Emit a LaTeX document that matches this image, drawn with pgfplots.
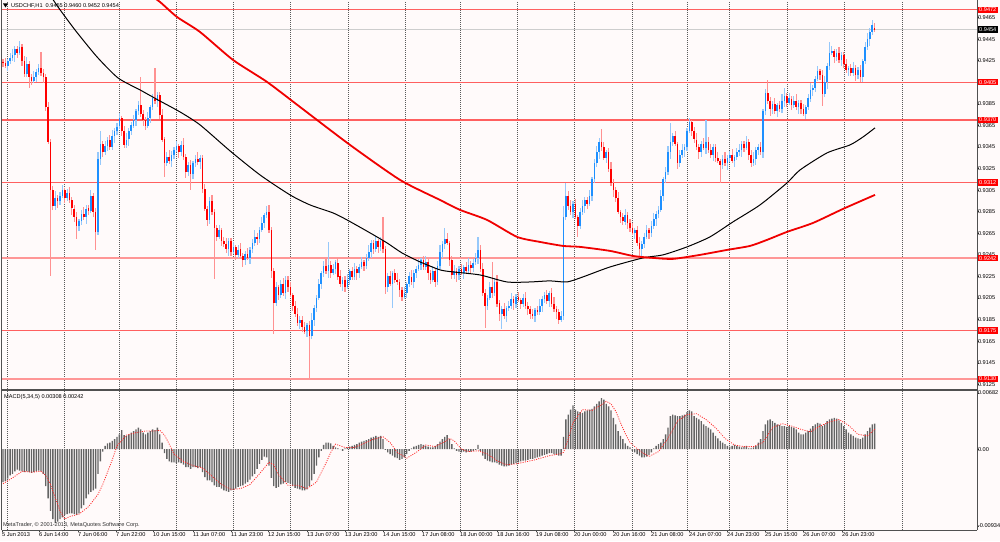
\documentclass[border=0pt]{standalone}
\usepackage{fontspec}
\setmainfont{Liberation Sans}
\usepackage{pgfplots}
\usepackage{pgfplotstable}
\pgfplotsset{compat=1.18}
\definecolor{bg}{RGB}{255,250,250}
\definecolor{upbody}{RGB}{30,144,255}
\definecolor{upwick}{RGB}{150,200,250}
\definecolor{dnbody}{RGB}{255,0,0}
\definecolor{dnwick}{RGB}{255,145,145}
\definecolor{lvl}{RGB}{255,95,95}
\definecolor{lvlpink}{RGB}{255,150,150}
\definecolor{maRed}{RGB}{240,0,0}
\definecolor{macdgray}{RGB}{100,100,100}
\definecolor{frame}{RGB}{80,80,80}
\definecolor{curgray}{RGB}{205,205,205}
\newcommand\mtfont{\fontsize{5.6pt}{6.4pt}\selectfont}

\pgfplotstableread[row sep=\\]{
i o h l c m\\
0 0.9424 0.9427 0.9419 0.9423 -0.0040\\
1 0.9423 0.9428 0.9418 0.9420 -0.0039\\
2 0.9420 0.9427 0.9415 0.9425 -0.0036\\
3 0.9425 0.9432 0.9422 0.9428 -0.0032\\
4 0.9428 0.9436 0.9425 0.9430 -0.0030\\
5 0.9430 0.9439 0.9424 0.9436 -0.0027\\
6 0.9436 0.9439 0.9428 0.9432 -0.0025\\
7 0.9432 0.9443 0.9430 0.9438 -0.0026\\
8 0.9438 0.9440 0.9420 0.9425 -0.0027\\
9 0.9425 0.9429 0.9410 0.9413 -0.0028\\
10 0.9413 0.9428 0.9410 0.9422 -0.0027\\
11 0.9422 0.9425 0.9400 0.9410 -0.0028\\
12 0.9410 0.9413 0.9402 0.9406 -0.0029\\
13 0.9406 0.9415 0.9404 0.9410 -0.0028\\
14 0.9410 0.9417 0.9405 0.9415 -0.0027\\
15 0.9415 0.9422 0.9412 0.9418 -0.0026\\
16 0.9418 0.9433 0.9411 0.9414 -0.0027\\
17 0.9414 0.9417 0.9404 0.9410 -0.0030\\
18 0.9410 0.9413 0.9378 0.9382 -0.0045\\
19 0.9382 0.9387 0.9348 0.9350 -0.0060\\
20 0.9350 0.9352 0.9225 0.9305 -0.0075\\
21 0.9305 0.9309 0.9287 0.9290 -0.0085\\
22 0.9290 0.9304 0.9287 0.9298 -0.0090\\
23 0.9298 0.9301 0.9289 0.9295 -0.0088\\
24 0.9295 0.9303 0.9291 0.9300 -0.0085\\
25 0.9300 0.9310 0.9298 0.9305 -0.0083\\
26 0.9305 0.9307 0.9293 0.9298 -0.0080\\
27 0.9298 0.9306 0.9295 0.9302 -0.0079\\
28 0.9302 0.9308 0.9293 0.9296 -0.0078\\
29 0.9296 0.9299 0.9282 0.9288 -0.0078\\
30 0.9288 0.9291 0.9276 0.9280 -0.0079\\
31 0.9280 0.9285 0.9260 0.9272 -0.0080\\
32 0.9272 0.9278 0.9267 0.9276 -0.0078\\
33 0.9276 0.9287 0.9273 0.9283 -0.0072\\
34 0.9283 0.9289 0.9277 0.9280 -0.0068\\
35 0.9280 0.9291 0.9274 0.9288 -0.0060\\
36 0.9288 0.9291 0.9282 0.9286 -0.0055\\
37 0.9286 0.9305 0.9284 0.9300 -0.0052\\
38 0.9300 0.9302 0.9280 0.9285 -0.0050\\
39 0.9285 0.9289 0.9250 0.9266 -0.0048\\
40 0.9266 0.9340 0.9263 0.9334 -0.0030\\
41 0.9334 0.9360 0.9328 0.9348 -0.0015\\
42 0.9348 0.9351 0.9336 0.9340 -0.0003\\
43 0.9340 0.9351 0.9338 0.9346 0.0004\\
44 0.9346 0.9354 0.9341 0.9352 0.0007\\
45 0.9352 0.9356 0.9342 0.9345 0.0008\\
46 0.9345 0.9361 0.9342 0.9355 0.0010\\
47 0.9355 0.9363 0.9349 0.9360 0.0012\\
48 0.9360 0.9367 0.9356 0.9364 0.0015\\
49 0.9364 0.9377 0.9362 0.9372 0.0018\\
50 0.9372 0.9374 0.9355 0.9360 0.0023\\
51 0.9360 0.9364 0.9344 0.9347 0.0017\\
52 0.9347 0.9358 0.9344 0.9352 0.0016\\
53 0.9352 0.9363 0.9346 0.9360 0.0018\\
54 0.9360 0.9368 0.9356 0.9365 0.0020\\
55 0.9365 0.9375 0.9363 0.9370 0.0022\\
56 0.9370 0.9380 0.9365 0.9378 0.0024\\
57 0.9378 0.9388 0.9375 0.9384 0.0026\\
58 0.9384 0.9410 0.9373 0.9376 0.0024\\
59 0.9376 0.9379 0.9364 0.9370 0.0020\\
60 0.9370 0.9373 0.9361 0.9365 0.0018\\
61 0.9365 0.9377 0.9363 0.9372 0.0020\\
62 0.9372 0.9384 0.9367 0.9382 0.0022\\
63 0.9382 0.9394 0.9379 0.9390 0.0024\\
64 0.9390 0.9418 0.9385 0.9388 0.0023\\
65 0.9388 0.9396 0.9382 0.9393 0.0026\\
66 0.9393 0.9396 0.9371 0.9375 0.0018\\
67 0.9375 0.9380 0.9350 0.9352 0.0008\\
68 0.9352 0.9354 0.9317 0.9330 -0.0005\\
69 0.9330 0.9340 0.9327 0.9336 -0.0012\\
70 0.9336 0.9342 0.9329 0.9332 -0.0015\\
71 0.9332 0.9341 0.9326 0.9338 -0.0016\\
72 0.9338 0.9345 0.9334 0.9342 -0.0016\\
73 0.9342 0.9351 0.9340 0.9346 -0.0017\\
74 0.9346 0.9348 0.9335 0.9340 -0.0016\\
75 0.9340 0.9351 0.9337 0.9347 -0.0017\\
76 0.9347 0.9353 0.9333 0.9336 -0.0019\\
77 0.9336 0.9339 0.9316 0.9322 -0.0022\\
78 0.9322 0.9331 0.9318 0.9328 -0.0022\\
79 0.9328 0.9333 0.9305 0.9320 -0.0024\\
80 0.9320 0.9332 0.9315 0.9330 -0.0022\\
81 0.9330 0.9338 0.9327 0.9334 -0.0022\\
82 0.9334 0.9340 0.9328 0.9331 -0.0023\\
83 0.9331 0.9338 0.9325 0.9335 -0.0022\\
84 0.9335 0.9338 0.9302 0.9306 -0.0028\\
85 0.9306 0.9311 0.9286 0.9288 -0.0034\\
86 0.9288 0.9290 0.9272 0.9277 -0.0038\\
87 0.9277 0.9299 0.9274 0.9295 -0.0038\\
88 0.9295 0.9301 0.9282 0.9285 -0.0040\\
89 0.9285 0.9288 0.9223 0.9270 -0.0044\\
90 0.9270 0.9273 0.9258 0.9262 -0.0046\\
91 0.9262 0.9273 0.9260 0.9268 -0.0046\\
92 0.9268 0.9270 0.9253 0.9258 -0.0048\\
93 0.9258 0.9262 0.9252 0.9255 -0.0050\\
94 0.9255 0.9261 0.9247 0.9250 -0.0051\\
95 0.9250 0.9261 0.9244 0.9258 -0.0052\\
96 0.9258 0.9261 0.9244 0.9248 -0.0050\\
97 0.9248 0.9257 0.9246 0.9252 -0.0049\\
98 0.9252 0.9254 0.9240 0.9245 -0.0048\\
99 0.9245 0.9254 0.9242 0.9250 -0.0046\\
100 0.9250 0.9256 0.9241 0.9244 -0.0045\\
101 0.9244 0.9247 0.9234 0.9240 -0.0044\\
102 0.9240 0.9249 0.9236 0.9246 -0.0042\\
103 0.9246 0.9251 0.9240 0.9242 -0.0040\\
104 0.9242 0.9252 0.9237 0.9250 -0.0037\\
105 0.9250 0.9260 0.9247 0.9256 -0.0033\\
106 0.9256 0.9268 0.9253 0.9262 -0.0030\\
107 0.9262 0.9265 0.9254 0.9260 -0.0024\\
108 0.9260 0.9271 0.9256 0.9268 -0.0018\\
109 0.9268 0.9280 0.9266 0.9275 -0.0013\\
110 0.9275 0.9284 0.9270 0.9282 -0.0009\\
111 0.9282 0.9290 0.9279 0.9285 -0.0010\\
112 0.9285 0.9291 0.9265 0.9268 -0.0020\\
113 0.9268 0.9271 0.9224 0.9230 -0.0035\\
114 0.9230 0.9233 0.9172 0.9200 -0.0045\\
115 0.9200 0.9220 0.9198 0.9215 -0.0047\\
116 0.9215 0.9217 0.9203 0.9208 -0.0046\\
117 0.9208 0.9222 0.9205 0.9218 -0.0043\\
118 0.9218 0.9224 0.9207 0.9210 -0.0042\\
119 0.9210 0.9225 0.9204 0.9222 -0.0040\\
120 0.9222 0.9225 0.9211 0.9215 -0.0041\\
121 0.9215 0.9220 0.9206 0.9208 -0.0042\\
122 0.9208 0.9210 0.9193 0.9198 -0.0045\\
123 0.9198 0.9202 0.9187 0.9190 -0.0047\\
124 0.9190 0.9196 0.9179 0.9182 -0.0048\\
125 0.9182 0.9188 0.9176 0.9185 -0.0049\\
126 0.9185 0.9188 0.9174 0.9178 -0.0050\\
127 0.9178 0.9183 0.9172 0.9174 -0.0050\\
128 0.9174 0.9182 0.9169 0.9180 -0.0049\\
129 0.9180 0.9184 0.9131 0.9170 -0.0045\\
130 0.9170 0.9191 0.9167 0.9185 -0.0038\\
131 0.9185 0.9199 0.9179 0.9196 -0.0030\\
132 0.9196 0.9208 0.9192 0.9205 -0.0020\\
133 0.9205 0.9223 0.9203 0.9218 -0.0010\\
134 0.9218 0.9230 0.9213 0.9228 -0.0002\\
135 0.9228 0.9239 0.9225 0.9235 0.0005\\
136 0.9235 0.9241 0.9227 0.9230 0.0008\\
137 0.9230 0.9257 0.9224 0.9236 0.0008\\
138 0.9236 0.9239 0.9224 0.9228 0.0007\\
139 0.9228 0.9237 0.9226 0.9232 0.0004\\
140 0.9232 0.9240 0.9227 0.9238 0.0002\\
141 0.9238 0.9242 0.9222 0.9225 0.0001\\
142 0.9225 0.9231 0.9215 0.9218 0.0000\\
143 0.9218 0.9225 0.9212 0.9222 -0.0002\\
144 0.9222 0.9225 0.9211 0.9215 0.0001\\
145 0.9215 0.9227 0.9213 0.9222 0.0002\\
146 0.9222 0.9232 0.9217 0.9230 0.0003\\
147 0.9230 0.9234 0.9222 0.9225 0.0004\\
148 0.9225 0.9238 0.9222 0.9232 0.0005\\
149 0.9232 0.9235 0.9222 0.9228 0.0006\\
150 0.9228 0.9237 0.9224 0.9234 0.0008\\
151 0.9234 0.9243 0.9232 0.9238 0.0009\\
152 0.9238 0.9240 0.9230 0.9235 0.0010\\
153 0.9235 0.9246 0.9232 0.9242 0.0011\\
154 0.9242 0.9254 0.9239 0.9248 0.0012\\
155 0.9248 0.9259 0.9242 0.9256 0.0014\\
156 0.9256 0.9259 0.9246 0.9250 0.0015\\
157 0.9250 0.9263 0.9248 0.9258 0.0016\\
158 0.9258 0.9260 0.9247 0.9252 0.0015\\
159 0.9252 0.9262 0.9249 0.9258 0.0016\\
160 0.9258 0.9280 0.9247 0.9250 0.0012\\
161 0.9250 0.9253 0.9209 0.9215 -0.0001\\
162 0.9215 0.9228 0.9211 0.9225 -0.0004\\
163 0.9225 0.9230 0.9216 0.9218 -0.0006\\
164 0.9218 0.9230 0.9196 0.9228 -0.0008\\
165 0.9228 0.9232 0.9219 0.9222 -0.0010\\
166 0.9222 0.9228 0.9217 0.9220 -0.0011\\
167 0.9220 0.9223 0.9206 0.9212 -0.0013\\
168 0.9212 0.9215 0.9202 0.9206 -0.0012\\
169 0.9206 0.9215 0.9204 0.9210 -0.0010\\
170 0.9210 0.9220 0.9205 0.9218 -0.0006\\
171 0.9218 0.9229 0.9215 0.9225 -0.0002\\
172 0.9225 0.9231 0.9217 0.9220 0.0001\\
173 0.9220 0.9231 0.9214 0.9228 0.0003\\
174 0.9228 0.9235 0.9224 0.9232 0.0004\\
175 0.9232 0.9241 0.9230 0.9236 0.0005\\
176 0.9236 0.9242 0.9231 0.9240 0.0006\\
177 0.9240 0.9244 0.9231 0.9234 0.0005\\
178 0.9234 0.9244 0.9231 0.9238 0.0004\\
179 0.9238 0.9241 0.9222 0.9228 0.0003\\
180 0.9228 0.9231 0.9218 0.9222 0.0002\\
181 0.9222 0.9235 0.9220 0.9230 0.0002\\
182 0.9230 0.9232 0.9215 0.9220 0.0004\\
183 0.9220 0.9239 0.9217 0.9235 0.0006\\
184 0.9235 0.9254 0.9232 0.9248 0.0009\\
185 0.9248 0.9258 0.9242 0.9255 0.0012\\
186 0.9255 0.9270 0.9251 0.9260 0.0015\\
187 0.9260 0.9265 0.9254 0.9256 0.0017\\
188 0.9256 0.9258 0.9235 0.9240 0.0012\\
189 0.9240 0.9244 0.9223 0.9226 0.0006\\
190 0.9226 0.9236 0.9223 0.9230 0.0001\\
191 0.9230 0.9233 0.9220 0.9226 -0.0002\\
192 0.9226 0.9235 0.9222 0.9232 -0.0003\\
193 0.9232 0.9237 0.9226 0.9228 -0.0004\\
194 0.9228 0.9236 0.9223 0.9234 -0.0003\\
195 0.9234 0.9238 0.9227 0.9230 -0.0004\\
196 0.9230 0.9242 0.9227 0.9236 -0.0003\\
197 0.9236 0.9239 0.9227 0.9233 -0.0003\\
198 0.9233 0.9241 0.9229 0.9238 -0.0002\\
199 0.9238 0.9247 0.9236 0.9242 -0.0001\\
200 0.9242 0.9262 0.9237 0.9250 0.0005\\
201 0.9250 0.9254 0.9229 0.9232 -0.0002\\
202 0.9232 0.9238 0.9207 0.9210 -0.0008\\
203 0.9210 0.9213 0.9177 0.9198 -0.0012\\
204 0.9198 0.9208 0.9194 0.9205 -0.0014\\
205 0.9205 0.9220 0.9203 0.9215 -0.0015\\
206 0.9215 0.9238 0.9205 0.9210 -0.0016\\
207 0.9210 0.9224 0.9207 0.9220 -0.0016\\
208 0.9220 0.9226 0.9197 0.9200 -0.0017\\
209 0.9200 0.9203 0.9184 0.9190 -0.0019\\
210 0.9190 0.9198 0.9176 0.9195 -0.0020\\
211 0.9195 0.9200 0.9186 0.9188 -0.0021\\
212 0.9188 0.9198 0.9183 0.9196 -0.0021\\
213 0.9196 0.9202 0.9193 0.9198 -0.0020\\
214 0.9198 0.9210 0.9195 0.9204 -0.0019\\
215 0.9204 0.9207 0.9194 0.9200 -0.0018\\
216 0.9200 0.9209 0.9196 0.9206 -0.0017\\
217 0.9206 0.9211 0.9201 0.9203 -0.0016\\
218 0.9203 0.9205 0.9195 0.9200 -0.0015\\
219 0.9200 0.9209 0.9197 0.9205 -0.0014\\
220 0.9205 0.9211 0.9195 0.9198 -0.0014\\
221 0.9198 0.9201 0.9189 0.9195 -0.0013\\
222 0.9195 0.9198 0.9186 0.9190 -0.0012\\
223 0.9190 0.9195 0.9186 0.9188 -0.0012\\
224 0.9188 0.9196 0.9183 0.9194 -0.0011\\
225 0.9194 0.9198 0.9189 0.9192 -0.0010\\
226 0.9192 0.9204 0.9189 0.9198 -0.0009\\
227 0.9198 0.9207 0.9192 0.9204 -0.0008\\
228 0.9204 0.9211 0.9200 0.9208 -0.0007\\
229 0.9208 0.9213 0.9200 0.9202 -0.0006\\
230 0.9202 0.9212 0.9197 0.9210 -0.0005\\
231 0.9210 0.9214 0.9197 0.9200 -0.0005\\
232 0.9200 0.9206 0.9192 0.9195 -0.0006\\
233 0.9195 0.9198 0.9186 0.9192 -0.0007\\
234 0.9192 0.9195 0.9181 0.9185 -0.0008\\
235 0.9185 0.9193 0.9183 0.9188 -0.0008\\
236 0.9188 0.9290 0.9185 0.9280 0.0015\\
237 0.9280 0.9312 0.9277 0.9300 0.0036\\
238 0.9300 0.9304 0.9287 0.9290 0.0042\\
239 0.9290 0.9296 0.9282 0.9285 0.0048\\
240 0.9285 0.9295 0.9279 0.9292 0.0053\\
241 0.9292 0.9297 0.9278 0.9280 0.0048\\
242 0.9280 0.9282 0.9262 0.9272 0.0046\\
243 0.9272 0.9289 0.9269 0.9285 0.0045\\
244 0.9285 0.9296 0.9282 0.9290 0.0044\\
245 0.9290 0.9299 0.9284 0.9296 0.0046\\
246 0.9296 0.9299 0.9288 0.9292 0.0047\\
247 0.9292 0.9305 0.9290 0.9300 0.0048\\
248 0.9300 0.9317 0.9295 0.9315 0.0049\\
249 0.9315 0.9334 0.9312 0.9330 0.0052\\
250 0.9330 0.9346 0.9327 0.9340 0.0055\\
251 0.9340 0.9353 0.9334 0.9350 0.0058\\
252 0.9350 0.9362 0.9341 0.9345 0.0062\\
253 0.9345 0.9350 0.9333 0.9335 0.0060\\
254 0.9335 0.9342 0.9330 0.9340 0.0055\\
255 0.9340 0.9344 0.9322 0.9325 0.0052\\
256 0.9325 0.9331 0.9309 0.9312 0.0047\\
257 0.9312 0.9315 0.9299 0.9305 0.0038\\
258 0.9305 0.9308 0.9294 0.9298 0.0030\\
259 0.9298 0.9303 0.9283 0.9285 0.0022\\
260 0.9285 0.9287 0.9275 0.9280 0.0016\\
261 0.9280 0.9284 0.9273 0.9276 0.0012\\
262 0.9276 0.9288 0.9273 0.9282 0.0007\\
263 0.9282 0.9285 0.9269 0.9275 0.0004\\
264 0.9275 0.9278 0.9266 0.9270 0.0002\\
265 0.9270 0.9275 0.9263 0.9265 -0.0002\\
266 0.9265 0.9270 0.9260 0.9268 -0.0004\\
267 0.9268 0.9272 0.9253 0.9256 -0.0006\\
268 0.9256 0.9262 0.9242 0.9250 -0.0008\\
269 0.9250 0.9258 0.9244 0.9255 -0.0010\\
270 0.9255 0.9265 0.9251 0.9262 -0.0010\\
271 0.9262 0.9273 0.9260 0.9268 -0.0009\\
272 0.9268 0.9270 0.9260 0.9265 -0.0007\\
273 0.9265 0.9276 0.9262 0.9272 -0.0004\\
274 0.9272 0.9284 0.9269 0.9278 0.0001\\
275 0.9278 0.9286 0.9272 0.9283 0.0004\\
276 0.9283 0.9290 0.9279 0.9287 0.0006\\
277 0.9287 0.9305 0.9285 0.9300 0.0008\\
278 0.9300 0.9317 0.9295 0.9315 0.0012\\
279 0.9315 0.9326 0.9312 0.9322 0.0018\\
280 0.9322 0.9346 0.9319 0.9340 0.0026\\
281 0.9340 0.9367 0.9334 0.9350 0.0040\\
282 0.9350 0.9358 0.9346 0.9355 0.0042\\
283 0.9355 0.9360 0.9346 0.9348 0.0041\\
284 0.9348 0.9350 0.9325 0.9330 0.0040\\
285 0.9330 0.9342 0.9327 0.9338 0.0040\\
286 0.9338 0.9348 0.9335 0.9342 0.0041\\
287 0.9342 0.9348 0.9336 0.9345 0.0042\\
288 0.9345 0.9363 0.9341 0.9360 0.0045\\
289 0.9360 0.9372 0.9358 0.9368 0.0047\\
290 0.9368 0.9370 0.9355 0.9360 0.0046\\
291 0.9360 0.9364 0.9349 0.9352 0.0040\\
292 0.9352 0.9358 0.9342 0.9345 0.0038\\
293 0.9345 0.9348 0.9334 0.9340 0.0036\\
294 0.9340 0.9351 0.9336 0.9348 0.0034\\
295 0.9348 0.9353 0.9342 0.9344 0.0030\\
296 0.9344 0.9370 0.9339 0.9350 0.0028\\
297 0.9350 0.9354 0.9339 0.9342 0.0026\\
298 0.9342 0.9348 0.9335 0.9338 0.0024\\
299 0.9338 0.9348 0.9332 0.9345 0.0020\\
300 0.9345 0.9348 0.9331 0.9335 0.0016\\
301 0.9335 0.9340 0.9330 0.9332 0.0013\\
302 0.9332 0.9334 0.9312 0.9328 0.0010\\
303 0.9328 0.9338 0.9325 0.9334 0.0008\\
304 0.9334 0.9340 0.9327 0.9330 0.0006\\
305 0.9330 0.9338 0.9324 0.9335 0.0004\\
306 0.9335 0.9341 0.9331 0.9338 0.0003\\
307 0.9338 0.9343 0.9330 0.9332 0.0004\\
308 0.9332 0.9338 0.9327 0.9336 0.0005\\
309 0.9336 0.9344 0.9333 0.9340 0.0004\\
310 0.9340 0.9348 0.9337 0.9342 0.0003\\
311 0.9342 0.9351 0.9336 0.9348 0.0002\\
312 0.9348 0.9351 0.9340 0.9344 0.0003\\
313 0.9344 0.9355 0.9342 0.9350 0.0004\\
314 0.9350 0.9352 0.9333 0.9338 0.0001\\
315 0.9338 0.9342 0.9327 0.9330 0.0001\\
316 0.9330 0.9340 0.9327 0.9334 0.0002\\
317 0.9334 0.9345 0.9328 0.9342 0.0004\\
318 0.9342 0.9348 0.9338 0.9345 0.0008\\
319 0.9345 0.9350 0.9338 0.9340 0.0012\\
320 0.9340 0.9380 0.9335 0.9378 0.0022\\
321 0.9378 0.9399 0.9375 0.9395 0.0030\\
322 0.9395 0.9407 0.9385 0.9388 0.0035\\
323 0.9388 0.9391 0.9374 0.9380 0.0036\\
324 0.9380 0.9388 0.9376 0.9385 0.0034\\
325 0.9385 0.9390 0.9376 0.9378 0.0032\\
326 0.9378 0.9386 0.9373 0.9384 0.0030\\
327 0.9384 0.9388 0.9377 0.9380 0.0029\\
328 0.9380 0.9394 0.9377 0.9388 0.0028\\
329 0.9388 0.9400 0.9382 0.9392 0.0028\\
330 0.9392 0.9395 0.9382 0.9386 0.0027\\
331 0.9386 0.9395 0.9384 0.9390 0.0028\\
332 0.9390 0.9392 0.9379 0.9384 0.0027\\
333 0.9384 0.9392 0.9381 0.9388 0.0026\\
334 0.9388 0.9394 0.9379 0.9382 0.0024\\
335 0.9382 0.9389 0.9376 0.9386 0.0020\\
336 0.9386 0.9389 0.9376 0.9380 0.0018\\
337 0.9380 0.9385 0.9374 0.9376 0.0018\\
338 0.9376 0.9384 0.9371 0.9382 0.0020\\
339 0.9382 0.9394 0.9379 0.9390 0.0022\\
340 0.9390 0.9404 0.9387 0.9398 0.0025\\
341 0.9398 0.9403 0.9392 0.9400 0.0028\\
342 0.9400 0.9411 0.9396 0.9408 0.0030\\
343 0.9408 0.9420 0.9406 0.9415 0.0032\\
344 0.9415 0.9417 0.9407 0.9412 0.0031\\
345 0.9412 0.9416 0.9383 0.9394 0.0028\\
346 0.9394 0.9411 0.9391 0.9405 0.0030\\
347 0.9405 0.9423 0.9399 0.9420 0.0034\\
348 0.9420 0.9442 0.9416 0.9432 0.0036\\
349 0.9432 0.9439 0.9430 0.9434 0.0037\\
350 0.9434 0.9436 0.9423 0.9428 0.0038\\
351 0.9428 0.9436 0.9425 0.9432 0.0037\\
352 0.9432 0.9438 0.9423 0.9426 0.0035\\
353 0.9426 0.9433 0.9420 0.9430 0.0032\\
354 0.9430 0.9433 0.9418 0.9422 0.0028\\
355 0.9422 0.9427 0.9414 0.9416 0.0024\\
356 0.9416 0.9420 0.9411 0.9418 0.0020\\
357 0.9418 0.9422 0.9411 0.9414 0.0018\\
358 0.9414 0.9424 0.9411 0.9418 0.0016\\
359 0.9418 0.9421 0.9406 0.9412 0.0014\\
360 0.9412 0.9419 0.9408 0.9416 0.0013\\
361 0.9416 0.9421 0.9405 0.9410 0.0012\\
362 0.9410 0.9427 0.9405 0.9425 0.0014\\
363 0.9425 0.9442 0.9422 0.9438 0.0018\\
364 0.9438 0.9451 0.9435 0.9445 0.0022\\
365 0.9445 0.9455 0.9439 0.9452 0.0026\\
366 0.9452 0.9463 0.9449 0.9458 0.0030\\
367 0.9455 0.9460 0.9452 0.9454 0.0031\\
}\candles

\pgfplotstableread[row sep=\\]{
i s\\
0 -0.0042\\ 4 -0.0035\\ 8 -0.0027\\ 12 -0.0028\\ 16 -0.0027\\ 18 -0.0032\\
20 -0.0043\\ 22 -0.0059\\ 24 -0.0075\\ 26 -0.0085\\ 28 -0.0082\\ 32 -0.0079\\
36 -0.0070\\ 40 -0.0055\\ 42 -0.0043\\ 44 -0.0028\\ 46 -0.0013\\ 48 0.0004\\
52 0.0017\\ 56 0.0020\\ 60 0.0022\\ 64 0.0022\\ 66 0.0023\\ 68 0.0017\\
70 0.0006\\ 72 -0.0006\\ 76 -0.0015\\ 80 -0.0020\\ 84 -0.0023\\ 88 -0.0033\\
92 -0.0043\\ 96 -0.0049\\ 100 -0.0048\\ 104 -0.0043\\ 108 -0.0030\\ 112 -0.0016\\
114 -0.0019\\ 116 -0.0031\\ 120 -0.0044\\ 124 -0.0044\\ 128 -0.0048\\ 132 -0.0040\\
136 -0.0017\\ 138 -0.0004\\ 140 0.0006\\ 144 0.0002\\ 148 0.0002\\ 152 0.0007\\
156 0.0012\\ 160 0.0015\\ 163 0.0008\\ 166 -0.0004\\ 170 -0.0011\\ 174 -0.0004\\
178 0.0005\\ 182 0.0003\\ 186 0.0009\\ 188 0.0013\\ 190 0.0010\\ 193 0.0000\\
196 -0.0003\\ 200 -0.0002\\ 204 -0.0006\\ 208 -0.0014\\ 212 -0.0019\\ 216 -0.0018\\
224 -0.0013\\ 230 -0.0008\\ 234 -0.0006\\ 236 -0.0004\\ 238 0.0012\\ 240 0.0032\\
244 0.0048\\ 248 0.0047\\ 252 0.0054\\ 254 0.0058\\ 256 0.0055\\ 258 0.0046\\
260 0.0032\\ 262 0.0019\\ 264 0.0008\\ 268 -0.0002\\ 272 -0.0009\\ 276 -0.0003\\
280 0.0013\\ 284 0.0034\\ 288 0.0042\\ 292 0.0043\\ 296 0.0036\\ 300 0.0026\\
304 0.0013\\ 308 0.0005\\ 312 0.0003\\ 316 0.0003\\ 320 0.0008\\ 324 0.0026\\
328 0.0031\\ 332 0.0028\\ 336 0.0024\\ 340 0.0021\\ 344 0.0028\\ 348 0.0033\\
352 0.0036\\ 356 0.0029\\ 360 0.0018\\ 364 0.0016\\ 367 0.0024\\
}\signal

\pgfplotsset{
  mtaxis/.style={
    scale only axis, anchor=south west, width=975pt,
    xmin=2, xmax=977,
    axis line style={draw=none},
    scaled x ticks=false, scaled y ticks=false,
    ytick pos=right, yticklabel pos=right,
    tick align=outside, major tick length=1.5pt,
    tick style={draw=black!75, line width=0.5pt},
    ticklabel style={font=\mtfont, inner sep=0.5pt},
    yticklabel style={xshift=-1.2pt},
    extra x ticks={7,64,119,176,233,290,348,405,460,517,574,632,687,729,787,844,902},
    extra x tick labels={},
    extra x tick style={grid=major, major tick length=0pt},
    major grid style={draw=black!65, dash pattern=on 1pt off 1pt, line width=0.6pt},
  },
  candle/.style={draw=none, mark=none, forget plot,
    error bars/y dir=both, error bars/y explicit, error bars/error mark=none},
}

\begin{document}
\begin{tikzpicture}[font=\mtfont]
\fill[bg] (0pt,0pt) rectangle (1000pt,541pt);
\path[use as bounding box] (0pt,0pt) rectangle (1000pt,541pt);

% ---------------- main price panel ----------------
\begin{axis}[mtaxis, at={(2pt,152pt)}, height=388pt,
  ymin=0.91207, ymax=0.94803,
  xtick=\empty,
  ytick={0.9125,0.9145,0.9165,0.9185,0.9205,0.9225,0.9245,0.9265,0.9285,0.9305,0.9325,0.9345,0.9365,0.9385,0.9425,0.9445,0.9465},
  yticklabels={0.9125,0.9145,0.9165,0.9185,0.9205,0.9225,0.9245,0.9265,0.9285,0.9305,0.9325,0.9345,0.9365,0.9385,0.9425,0.9445,0.9465},
]
% horizontal levels
\addplot[lvl, line width=1.1pt] coordinates {(2,0.9472) (977,0.9472)};
\addplot[lvl, line width=1.1pt] coordinates {(2,0.9405) (977,0.9405)};
\addplot[lvl, line width=1.1pt] coordinates {(2,0.9370) (977,0.9370)};
\addplot[lvl, line width=1.1pt] coordinates {(2,0.9312) (977,0.9312)};
\addplot[lvlpink, line width=1.8pt] coordinates {(2,0.9242) (977,0.9242)};
\addplot[lvl, line width=1.1pt] coordinates {(2,0.9175) (977,0.9175)};
\addplot[lvlpink, line width=1.8pt] coordinates {(2,0.9130) (977,0.9130)};
\addplot[curgray, line width=1.2pt] coordinates {(2,0.9454) (977,0.9454)};

% wicks
\addplot[candle, restrict expr to domain={\thisrow{c}-\thisrow{o}}{0:1},
  error bars/error bar style={draw=upwick, line width=1.2pt}]
  table[x expr=3+2.375*\thisrow{i}, y expr=(\thisrow{h}+\thisrow{l})/2,
        y error expr=(\thisrow{h}-\thisrow{l})/2] {\candles};
\addplot[candle, restrict expr to domain={\thisrow{c}-\thisrow{o}}{-1:-0.00005},
  error bars/error bar style={draw=dnwick, line width=1.2pt}]
  table[x expr=3+2.375*\thisrow{i}, y expr=(\thisrow{h}+\thisrow{l})/2,
        y error expr=(\thisrow{h}-\thisrow{l})/2] {\candles};
% bodies
\addplot[candle, restrict expr to domain={\thisrow{c}-\thisrow{o}}{0:1},
  error bars/error bar style={draw=upbody, line width=1.7pt}]
  table[x expr=3+2.375*\thisrow{i}, y expr=(\thisrow{o}+\thisrow{c})/2,
        y error expr=abs(\thisrow{c}-\thisrow{o})/2] {\candles};
\addplot[candle, restrict expr to domain={\thisrow{c}-\thisrow{o}}{-1:-0.00005},
  error bars/error bar style={draw=dnbody, line width=1.7pt}]
  table[x expr=3+2.375*\thisrow{i}, y expr=(\thisrow{o}+\thisrow{c})/2,
        y error expr=abs(\thisrow{c}-\thisrow{o})/2] {\candles};

% moving averages
\addplot[black, line width=1pt, smooth, tension=0.4] coordinates {
(50,0.94859) (58,0.94748) (75,0.94535) (97,0.94285) (118,0.94090) (140,0.93979)
(158,0.93886) (180,0.93775) (200,0.93655) (230,0.93414) (260,0.93191) (290,0.93006)
(310,0.92913) (333,0.92839) (347,0.92774) (370,0.92654) (387,0.92561) (402,0.92468)
(420,0.92385) (440,0.92311) (453,0.92292) (480,0.92264) (507,0.92199) (530,0.92199)
(550,0.92209) (567,0.92199) (583,0.92246) (610,0.92338) (643,0.92422) (663,0.92450)
(687,0.92524) (710,0.92617) (733,0.92756) (760,0.92913) (787,0.93117) (800,0.93237)
(827,0.93395) (850,0.93469) (863,0.93543) (875,0.93627)};
\addplot[maRed, line width=1.8pt, smooth, tension=0.4] coordinates {
(150,0.94859) (160,0.94794) (177,0.94655) (200,0.94516) (233,0.94257) (267,0.94053)
(300,0.93821) (350,0.93469) (400,0.93145) (440,0.92959) (460,0.92867) (487,0.92774)
(517,0.92617) (540,0.92570) (563,0.92533) (580,0.92524) (610,0.92487) (633,0.92440)
(653,0.92422) (673,0.92413) (700,0.92450) (727,0.92496) (750,0.92533) (767,0.92589)
(787,0.92663) (813,0.92746) (843,0.92876) (875,0.93006)};

\coordinate (pA) at (axis cs:977,0.9472);
\coordinate (pB) at (axis cs:977,0.9405);
\coordinate (pC) at (axis cs:977,0.9370);
\coordinate (pD) at (axis cs:977,0.9312);
\coordinate (pE) at (axis cs:977,0.9242);
\coordinate (pF) at (axis cs:977,0.9175);
\coordinate (pG) at (axis cs:977,0.9130);
\coordinate (pH) at (axis cs:977,0.9454);
\end{axis}

% ---------------- MACD panel ----------------
\begin{axis}[mtaxis, at={(2pt,11pt)}, height=139pt,
  ymin=-0.00983, ymax=0.00706,
  xtick pos=bottom,
  xtick={2,39,78,116,153,193,231,268,307,345,383,422,460,497,536,574,613,651,689,727,765,803,842},
  xticklabels={5 Jun 2013,6 Jun 14:00,7 Jun 06:00,7 Jun 22:00,10 Jun 15:00,11 Jun 07:00,11 Jun 23:00,12 Jun 15:00,13 Jun 07:00,13 Jun 23:00,14 Jun 15:00,17 Jun 08:00,18 Jun 00:00,18 Jun 16:00,19 Jun 08:00,20 Jun 00:00,20 Jun 16:00,21 Jun 08:00,24 Jun 07:00,24 Jun 23:00,25 Jun 15:00,26 Jun 07:00,26 Jun 23:00},
  xticklabel style={anchor=north west, xshift=-0.5pt},
  ytick={-0.00934,0,0.00682},
  yticklabels={-0.00934,0.00,0.00682},
]
\addplot[ybar, bar width=1.35pt, fill=macdgray, draw=none]
  table[x expr=3+2.375*\thisrow{i}, y=m] {\candles};
\addplot[draw=red!85, line width=0.8pt, dash pattern=on 1pt off 1.3pt]
  table[x expr=3+2.375*\thisrow{i}, y=s] {\signal};
\end{axis}

% frame
\draw[frame, line width=1pt] (1.5pt,11pt) -- (1.5pt,541pt);
\draw[frame, line width=1pt] (977pt,11pt) -- (977pt,541pt);
\draw[frame, line width=1pt] (1.5pt,11pt) -- (977pt,11pt);
\draw[frame, line width=2pt] (1.5pt,151pt) -- (977pt,151pt);

% price boxes
\tikzset{pbox/.style={fill=#1, text=white, anchor=west, inner xsep=1.2pt, inner ysep=0.6pt, minimum height=6.4pt, xshift=0.8pt, font=\mtfont}}
\node[pbox=red] at (pA) {0.9472};
\node[pbox=red] at (pB) {0.9405};
\node[pbox=red] at (pC) {0.9370};
\node[pbox=red] at (pD) {0.9312};
\node[pbox=red] at (pE) {0.9242};
\node[pbox=red] at (pF) {0.9175};
\node[pbox=red] at (pG) {0.9130};
\node[pbox=black] at (pH) {0.9454};

% texts
\fill[black] (3pt,537.5pt) -- (8pt,537.5pt) -- (5.5pt,533.5pt) -- cycle;
\node[anchor=west, inner sep=0pt] at (11pt,535.5pt) {USDCHF,H1\ \ 0.9455 0.9460 0.9452 0.9454};
\node[anchor=west, inner sep=0pt] at (4pt,144pt) {MACD(5,34,5) 0.00308 0.00242};
\node[anchor=west, inner sep=0pt, text=black!80] at (3pt,15.5pt) {MetaTrader, © 2001-2013, MetaQuotes Software Corp.};
\end{tikzpicture}
\end{document}
